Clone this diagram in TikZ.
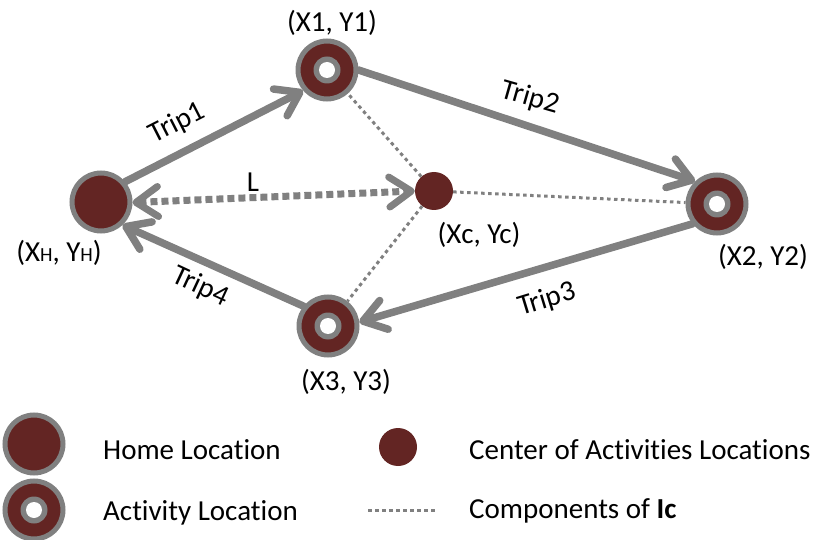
\documentclass[tikz,border=0pt]{standalone}
\usepackage{fontspec}
\setmainfont{Carlito}[Ligatures=NoCommon]
\usetikzlibrary{arrows.meta}
\definecolor{maroon}{HTML}{632523}
\definecolor{lgray}{HTML}{808080}
\begin{document}
\begin{tikzpicture}[x=1pt,y=-1pt,
  every node/.style={font=\fontsize{29}{35}\selectfont},
  home/.style={circle, fill=maroon, draw=lgray, line width=5pt, minimum size=58pt, inner sep=0pt},
  act/.style={home, path picture={
      \fill[lgray] (path picture bounding box.center) circle [radius=13.5pt];
      \fill[white] (path picture bounding box.center) circle [radius=8pt];}},
  ctr/.style={circle, fill=maroon, minimum size=38pt, inner sep=0pt},
  trip/.style={lgray, line width=7.5pt, line cap=round, -{Straight Barb[length=22pt,width=30pt,round]}},
  lline/.style={lgray, line width=7pt, dash pattern=on 7pt off 4pt, {Straight Barb[length=22pt,width=30pt,round]}-{Straight Barb[length=22pt,width=30pt,round]}},
  comp/.style={lgray, line width=3pt, dash pattern=on 3.5pt off 3.5pt},
  lbl/.style={inner sep=0pt},
  leg/.style={inner sep=0pt, anchor=west}
]
\useasboundingbox (0,0) rectangle (814,540);
% main nodes
\node[home] (H) at (101,202) {};
\node[act] (A1) at (327,70) {};
\node[act] (A2) at (717,204) {};
\node[act] (A3) at (328,326) {};
\node[ctr] (C) at (434,191) {};
% components
\draw[comp] (C) -- (A1);
\draw[comp] (C) -- (A2);
\draw[comp] (C) -- (A3);
% trips
\draw[trip] (H.40) -- (A1.221);
\draw[trip] (A1.0) -- (A2.134);
\draw[trip] (A2.219) -- (A3.7);
\draw[trip] (A3.141) -- (H.313);
\draw[lline] (H.-1) -- (C.180);
% labels
\node[lbl] (lH) at (59,253) {(X{\fontsize{20}{20}\selectfont H}, Y{\fontsize{20}{20}\selectfont H})};
\node[lbl] (l1) at (332,23) {(X1, Y1)};
\node[lbl] (lC) at (479,235) {(Xc, Yc)};
\node[lbl] (l2) at (763,257) {(X2, Y2)};
\node[lbl] (l3) at (346,382) {(X3, Y3)};
\node[lbl, rotate=27] (t1) at (177,123) {Trip1};
\node[lbl, rotate=-16] (t2) at (530,98) {Trip2};
\node[lbl, rotate=17] (t3) at (547,300) {Trip3};
\node[lbl, rotate=-25] (t4) at (200,287) {Trip4};
\node[lbl] (lL) at (253,182) {L};
% legend
\node[home] (gH) at (34,444) {};
\node[act] (gA) at (34,510) {};
\node[ctr] (gC) at (398,447) {};
\coordinate (d1) at (368,510);
\coordinate (d2) at (437,510);
\draw[comp] (d1) -- (d2);
\node[leg] (tH) at (103,450) {Home Location};
\node[leg] (tA) at (103,513) {Activity Location};
\node[leg] (tC) at (469,450) {Center of Activities Locations};
\node[leg] (tD) at (469,511) {Components of \textbf{Ic}};
\end{tikzpicture}
\end{document}
